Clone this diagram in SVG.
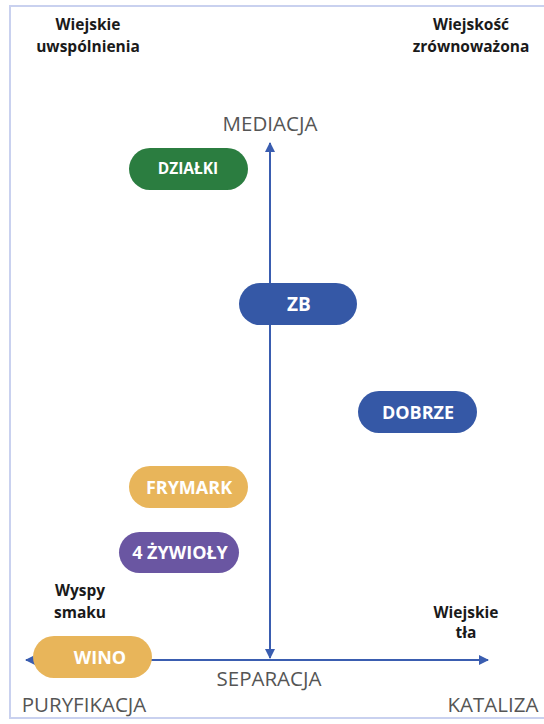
<svg xmlns="http://www.w3.org/2000/svg" width="544" height="724" viewBox="0 0 544 724">
<style>
.hdr{font-family:"Open Sans","Noto Sans",sans-serif;font-weight:bold;font-size:15.5px;fill:#1a1a1a;text-anchor:middle}
.ax{font-family:"Open Sans","Noto Sans",sans-serif;font-size:20.5px;fill:#555;text-anchor:middle}
.nt{font-family:"Open Sans","Noto Sans",sans-serif;font-weight:bold;font-size:18px;fill:#fff;text-anchor:middle}
.axis{stroke:#3a5db0;stroke-width:2;fill:none}
</style>
<defs>
<marker id="ah" viewBox="0 0 10 10" refX="9" refY="5" markerWidth="5" markerHeight="5" orient="auto-start-reverse" markerUnits="strokeWidth">
<path d="M0,0L10,5L0,10z" fill="#3a5db0"/>
</marker>
</defs>
<rect width="544" height="724" fill="#fff"/>
<path d="M560,6H10V718H560" fill="none" stroke="#c9d1ef" stroke-width="2"/>
<g id="labels">
<text class="hdr" x="88" y="30">Wiejskie</text>
<text class="hdr" x="88" y="52">uwspólnienia</text>
<text class="hdr" x="471" y="30">Wiejskość</text>
<text class="hdr" x="471" y="52">zrównoważona</text>
<text class="hdr" x="80" y="596">Wyspy</text>
<text class="hdr" x="80" y="618">smaku</text>
<text class="hdr" x="466" y="618">Wiejskie</text>
<text class="hdr" x="466" y="638">tła</text>
<text class="ax" x="270" y="131">MEDIACJA</text>
<text class="ax" x="269" y="686">SEPARACJA</text>
<text class="ax" x="84" y="712">PURYFIKACJA</text>
<text class="ax" x="493" y="712">KATALIZA</text>
</g>
<g id="connectors">
<line class="axis" x1="270" y1="143" x2="270" y2="658" marker-start="url(#ah)" marker-end="url(#ah)"/>
<line class="axis" x1="26" y1="660" x2="488" y2="660" marker-start="url(#ah)" marker-end="url(#ah)"/>
</g>
<g id="n-dzialki"><rect x="129" y="148" width="119" height="42" rx="21" fill="#2b7d40"/><text class="nt" x="188" y="174" style="font-size:15.5px">DZIAŁKI</text></g>
<g id="n-zb"><rect x="239" y="283" width="118" height="42" rx="21" fill="#3558a6"/><text class="nt" x="299" y="311" style="font-size:19px">ZB</text></g>
<g id="n-dobrze"><rect x="358" y="391" width="119" height="42" rx="21" fill="#3558a6"/><text class="nt" x="418" y="419">DOBRZE</text></g>
<g id="n-frymark"><rect x="129" y="466" width="119" height="42" rx="21" fill="#e8b55a"/><text class="nt" x="189" y="494">FRYMARK</text></g>
<g id="n-4zywioly"><rect x="119" y="532" width="120" height="41" rx="20.5" fill="#6a56a2"/><text class="nt" x="180" y="559">4 ŻYWIOŁY</text></g>
<g id="n-wino"><rect x="33" y="636" width="119" height="42" rx="21" fill="#e8b55a"/><text class="nt" x="100" y="664">WINO</text></g>
</svg>
